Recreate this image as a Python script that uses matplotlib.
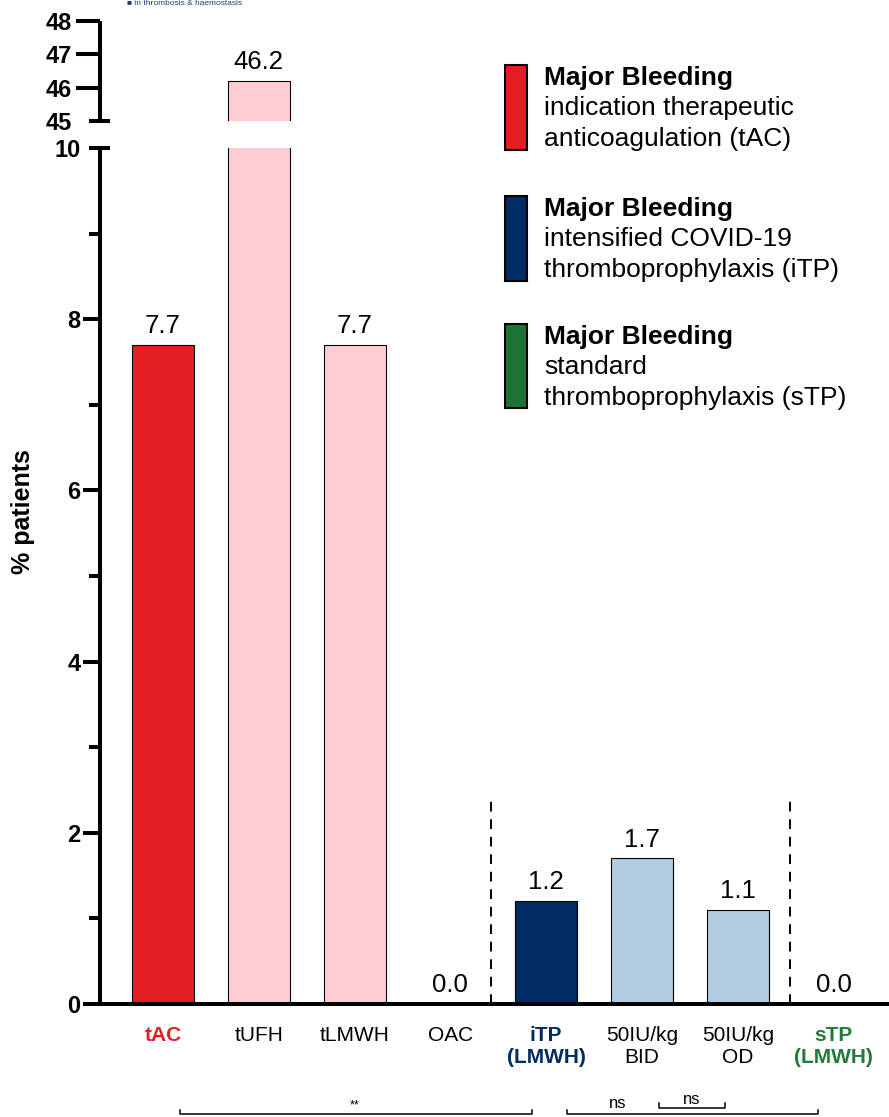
import matplotlib
matplotlib.use("Agg")
import matplotlib.pyplot as plt
from matplotlib.patches import Rectangle
from matplotlib.lines import Line2D
from matplotlib.transforms import blended_transform_factory

plt.rcParams['font.family'] = ['Liberation Sans', 'DejaVu Sans']

# data
categories = ['tAC', 'tUFH', 'tLMWH', 'OAC', 'iTP\n(LMWH)', '50IU/kg\nBID', '50IU/kg\nOD', 'sTP\n(LMWH)']
values = [7.7, 46.2, 7.7, 0.0, 1.2, 1.7, 1.1, 0.0]
bar_colors = ['#E41E25', '#FFCCD3', '#FFCCD3', '#FFCCD3', '#002B65', '#B3CDE0', '#B3CDE0', '#1E7236']
label_colors = ['#E41E25', 'black', 'black', 'black', '#002B65', 'black', 'black', '#237A3A']
label_bold = [True, False, False, False, True, False, False, True]

legend_titles = ['Major Bleeding'] * 3
legend_texts = ['indication therapeutic\nanticoagulation (tAC)',
                'intensified COVID-19\nthromboprophylaxis (iTP)',
                'standard\nthromboprophylaxis (sTP)']
legend_colors = ['#E41E25', '#002B65', '#1E7236']

comparisons = ['**', 'ns', 'ns']

W, H = 889, 1117
fig = plt.figure(figsize=(W / 100, H / 100), dpi=100)


def fx(px):
    return px / W


def fy(py):
    return 1 - py / H


SPINE = 2.9
x = list(range(len(categories)))
xlim = (-0.658, 7.578)

ax = fig.add_axes([fx(100), fy(1004), fx(789), 856 / H])
ax_top = fig.add_axes([fx(100), fy(121), fx(789), 100 / H])

for a in (ax, ax_top):
    a.bar(x, values, width=0.647, color=bar_colors, edgecolor='black', linewidth=0.8, zorder=2)
    a.set_xlim(*xlim)
    a.spines['top'].set_visible(False)
    a.spines['right'].set_visible(False)
    a.spines['left'].set_linewidth(SPINE)
    a.spines['bottom'].set_linewidth(SPINE)
    a.spines['left'].set_capstyle('butt')

ax.set_ylim(0, 10)
ax.set_yticks([0, 2, 4, 6, 8, 10])
ax.set_yticks([1, 3, 5, 7, 9], minor=True)
ax.tick_params(axis='y', which='major', length=12.2, width=SPINE, pad=2, labelsize=17)
ax.tick_params(axis='y', which='minor', length=8, width=SPINE)
for lab in ax.get_yticklabels():
    lab.set_fontweight('bold')
ax.set_xticks(x)
ax.set_xticklabels(categories, fontsize=15)
ax.tick_params(axis='x', length=0, pad=16)
for lab, c, b in zip(ax.get_xticklabels(), label_colors, label_bold):
    lab.set_color(c)
    if b:
        lab.set_fontweight('bold')

ax_top.set_ylim(45, 48)
ax_top.set_yticks([45, 46, 47, 48])
ax_top.tick_params(axis='y', length=17.3, width=SPINE, pad=3, labelsize=17)
for lab in ax_top.get_yticklabels():
    lab.set_fontweight('bold')
ax_top.spines['bottom'].set_visible(False)
ax_top.set_xticks([])

# break caps at 10 and 45
for a, yv in ((ax, 10), (ax_top, 45)):
    for t in a.yaxis.get_major_ticks():
        if t.get_loc() == yv:
            t.tick1line.set_visible(False)
    tr = blended_transform_factory(a.transAxes, a.transData)
    a.add_line(Line2D([-11 / 789, 10 / 789], [yv, yv], transform=tr,
                      color='black', linewidth=SPINE, clip_on=False, solid_capstyle='butt'))

# value labels
for xi, v in zip(x, values):
    target = ax_top if v > 10 else ax
    target.annotate(f'{v:.1f}', (xi, v), xytext=(0, 5), textcoords='offset points',
                    ha='center', va='bottom', fontsize=18.5)

# group separators
for sx in (3.42, 6.545):
    ax.plot([sx, sx], [0, 2.44], color='black', linewidth=1.4, linestyle=(0, (5, 4)), zorder=1)

# y label
fig.text(fx(23), fy(512), '% patients', rotation=90, fontsize=18, fontweight='bold',
         ha='center', va='center')

# legend
legend_rows = [(65, 150, 85), (196, 281, 216), (324, 408, 344)]
for (top, bot, base), title, txt, col in zip(legend_rows, legend_titles, legend_texts, legend_colors):
    fig.add_artist(Rectangle((fx(505), fy(bot)), fx(22), (bot - top) / H, facecolor=col,
                             edgecolor='black', linewidth=1.5, transform=fig.transFigure,
                             zorder=5))
    fig.text(fx(544), fy(base), title, fontsize=19, fontweight='bold', va='baseline')
    for i, line in enumerate(txt.split('\n')):
        fig.text(fx(544), fy(base + 30.5 * (i + 1)), line, fontsize=19, va='baseline')

# significance brackets
brackets = [(180, 532, 1114, 1110, 355, 1105, 9),
            (567, 818, 1114, 1110, 618, 1103, 12),
            (659, 725, 1108, 1103, 692, 1099, 12)]
for (x0, x1, yl, yt, lx, ly, fs), lab in zip(brackets, comparisons):
    fig.add_artist(Line2D([fx(x0), fx(x0), fx(x1), fx(x1)], [fy(yt), fy(yl), fy(yl), fy(yt)],
                          transform=fig.transFigure, color='black', linewidth=1.1))
    fig.text(fx(lx), fy(ly), lab, fontsize=fs, ha='center', va='center')

# journal logo
fig.text(fx(127), fy(0), '\u25a0 in thrombosis & haemostasis', fontsize=6, color='#1F3C78',
         va='top', ha='left')

fig.savefig('out.png', dpi=100, facecolor='white')
